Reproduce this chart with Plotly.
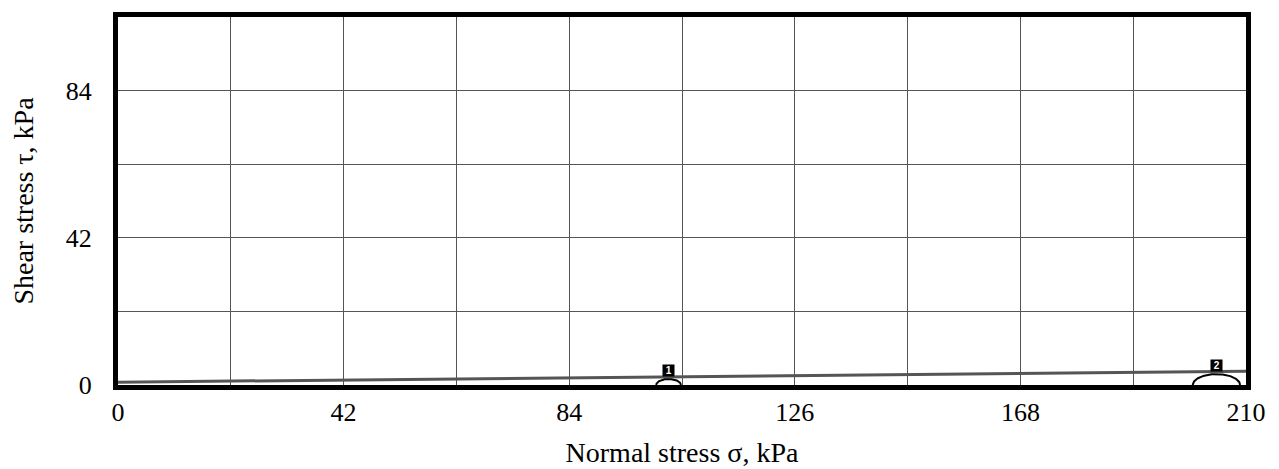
import numpy as np
import plotly.graph_objects as go

# Mohr circles: centre, radius and visible arc height (kPa)
circle_ids = ["1", "2"]
circle_centres = [102.5, 204.5]
circle_radii = [2.3, 4.4]
circle_heights = [1.7, 3.1]

# failure envelope
envelope_sigma = [0, 210]
envelope_tau = [0.8, 3.9]

x_ticks = [0, 42, 84, 126, 168, 210]
y_ticks = [0, 42, 84]

FONT = "Liberation Serif, Times New Roman, serif"

fig = go.Figure()

fig.add_trace(go.Scatter(
    x=envelope_sigma, y=envelope_tau, mode="lines",
    line=dict(color="#555555", width=3), showlegend=False, hoverinfo="skip",
))

theta = np.linspace(0, np.pi, 90)
for cid, c, r, h in zip(circle_ids, circle_centres, circle_radii, circle_heights):
    fig.add_trace(go.Scatter(
        x=c + r * np.cos(theta), y=h * np.sin(theta), mode="lines",
        line=dict(color="black", width=2), showlegend=False, hoverinfo="skip",
    ))
    fig.add_annotation(
        x=c, y=h, text=f"\u00a0<b>{cid}</b>\u00a0", showarrow=False, yanchor="bottom",
        yshift=2, bgcolor="black", font=dict(color="white", size=10, family="Arial"),
        borderpad=0,
    )

fig.update_layout(
    width=1271, height=461,
    paper_bgcolor="white", plot_bgcolor="white",
    margin=dict(l=110, r=33, t=4, b=81),
    font=dict(family=FONT, color="black", size=23.5),
    showlegend=False,
)
fig.update_xaxes(
    range=[0, 210], tickvals=x_ticks, ticks="", tickfont_size=26,
    showgrid=True, gridcolor="#555555", gridwidth=1,
    minor=dict(dtick=21, showgrid=True, gridcolor="#555555", gridwidth=1),
    showline=True, linecolor="black", linewidth=5, mirror=True, zeroline=False,
    title=dict(text="Normal stress σ, kPa", standoff=18),
)
fig.update_yaxes(
    range=[0, 105], tickvals=y_ticks, ticks="", tickfont_size=26,
    ticklabelstandoff=16,
    showgrid=True, gridcolor="#555555", gridwidth=1,
    minor=dict(dtick=21, showgrid=True, gridcolor="#555555", gridwidth=1),
    showline=True, linecolor="black", linewidth=5, mirror=True, zeroline=False,
    title=dict(text="Shear stress τ, kPa", standoff=32),
)

fig.write_html("out.html")
